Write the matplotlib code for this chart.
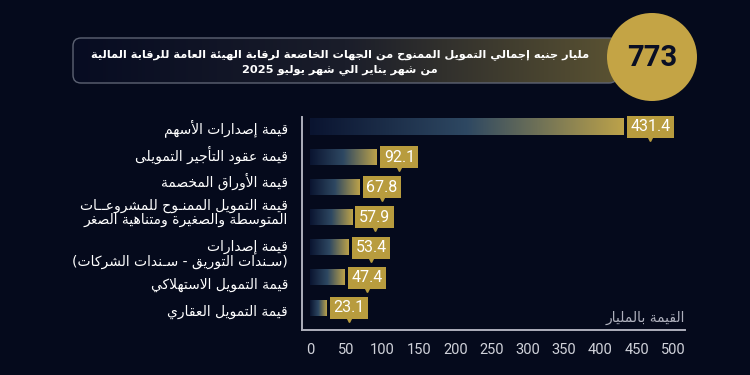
import re
import numpy as np
import matplotlib
matplotlib.use("Agg")
import matplotlib.pyplot as plt
import matplotlib.transforms as mtransforms
from matplotlib.colors import LinearSegmentedColormap
from matplotlib.patches import FancyBboxPatch, Ellipse

# data
categories = [
    "قيمة إصدارات الأسهم",
    "قيمة عقود التأجير التمويلى",
    "قيمة الأوراق المخصمة",
    "قيمة التمويل الممنـوح للمشروعــات\nالمتوسطة والصغيرة ومتناهية الصغر",
    "قيمة إصدارات\n(سـندات التوريق - سـندات الشركات)",
    "قيمة التمويل الاستهلاكي",
    "قيمة التمويل العقاري",
]
values = [431.4, 92.1, 67.8, 57.9, 53.4, 47.4, 23.1]
xticks = [0, 50, 100, 150, 200, 250, 300, 350, 400, 450, 500]
total = "773"
title = "مليار جنيه إجمالي التمويل الممنوح من الجهات الخاضعة لرقابة الهيئة العامة للرقابة المالية\nمن شهر يناير الي شهر يوليو 2025"
unit_label = "القيمة بالمليار"

bg = "#050a1c"
gold = "#b89c3e"
circle_gold = "#c4a445"
grey = "#aeb0bc"

# --- minimal arabic shaping (matplotlib has no RTL / joining support) ---
_letters = [('ء', 0xFE80, 1), ('آ', 0xFE81, 2), ('أ', 0xFE83, 2), ('ؤ', 0xFE85, 2),
            ('إ', 0xFE87, 2), ('ئ', 0xFE89, 4), ('ا', 0xFE8D, 2), ('ب', 0xFE8F, 4),
            ('ة', 0xFE93, 2), ('ت', 0xFE95, 4), ('ث', 0xFE99, 4), ('ج', 0xFE9D, 4),
            ('ح', 0xFEA1, 4), ('خ', 0xFEA5, 4), ('د', 0xFEA9, 2), ('ذ', 0xFEAB, 2),
            ('ر', 0xFEAD, 2), ('ز', 0xFEAF, 2), ('س', 0xFEB1, 4), ('ش', 0xFEB5, 4),
            ('ص', 0xFEB9, 4), ('ض', 0xFEBD, 4), ('ط', 0xFEC1, 4), ('ظ', 0xFEC5, 4),
            ('ع', 0xFEC9, 4), ('غ', 0xFECD, 4), ('ف', 0xFED1, 4), ('ق', 0xFED5, 4),
            ('ك', 0xFED9, 4), ('ل', 0xFEDD, 4), ('م', 0xFEE1, 4), ('ن', 0xFEE5, 4),
            ('ه', 0xFEE9, 4), ('و', 0xFEED, 2), ('ى', 0xFEEF, 2), ('ي', 0xFEF1, 4)]
FORMS = {c: tuple(b + k for k in range(n)) for c, b, n in _letters}
FORMS['ـ'] = (0x640,) * 4
LAM_ALEF = {'آ': 0xFEF5, 'أ': 0xFEF7, 'إ': 0xFEF9, 'ا': 0xFEFB}


def shape(text):
    units = []
    i = 0
    while i < len(text):
        c = text[i]
        if c == 'ل' and i + 1 < len(text) and text[i + 1] in LAM_ALEF:
            b = LAM_ALEF[text[i + 1]]
            units.append((b, b + 1))
            i += 2
            continue
        units.append(FORMS.get(c, c))
        i += 1
    out = []
    for k, u in enumerate(units):
        if isinstance(u, str):
            out.append(u)
            continue
        prev = units[k - 1] if k > 0 else None
        nxt = units[k + 1] if k + 1 < len(units) else None
        jp = isinstance(prev, tuple) and len(prev) == 4 and len(u) > 1
        jn = len(u) == 4 and isinstance(nxt, tuple) and len(nxt) > 1
        if jp and jn:
            g = u[3]
        elif jp:
            g = u[1]
        elif jn:
            g = u[2]
        else:
            g = u[0]
        out.append(chr(g))
    return ''.join(out)


def rtl(s):
    lines = []
    for line in s.split('\n'):
        parts = re.findall(r'[0-9][0-9.]*|.', shape(line))
        mirror = {'(': ')', ')': '('}
        lines.append(''.join(mirror.get(p, p) for p in reversed(parts)))
    return '\n'.join(lines)


plt.rcParams['font.family'] = ['DejaVu Sans']

fig = plt.figure(figsize=(7.5, 3.75), dpi=100, facecolor=bg)

# background layer in pixel coordinates for the header
bgax = fig.add_axes([0, 0, 1, 1], zorder=-1)
bgax.set_xlim(0, 750)
bgax.set_ylim(375, 0)
bgax.axis('off')
bgax.set_facecolor(bg)

box = FancyBboxPatch((73, 38), 544, 45, boxstyle="round,pad=0,rounding_size=8",
                     fc='none', ec='#5d6373', lw=1)
bgax.add_patch(box)
hcmap = LinearSegmentedColormap.from_list('h', ['#070c22', '#1a1d2a', '#5a5232'])
im = bgax.imshow(np.linspace(0, 1, 256).reshape(1, -1), cmap=hcmap, aspect='auto',
                 extent=(73, 617, 83, 38), zorder=0.5)
im.set_clip_path(box)
bgax.add_patch(Ellipse((652, 57), 90, 88, fc=circle_gold, ec='none', zorder=3))
bgax.text(652, 58, total, ha='center', va='center', fontsize=21, fontweight='bold',
          family='Roboto', color='#0a0f24', zorder=4)
bgax.text(340, 62, rtl(title), ha='center', va='center', fontsize=8.2,
          fontweight='bold', color='white', linespacing=1.45, zorder=4)
bgax.set_xlim(0, 750)
bgax.set_ylim(375, 0)

# main chart
ax = fig.add_axes([302 / 750, 1 - 330 / 375, 383 / 750, 213 / 375])
ax.set_facecolor('none')
bcmap = LinearSegmentedColormap.from_list('b', ['#0a1430', '#2e4862', '#bca24a'])
grad = np.linspace(0, 1, 256).reshape(1, -1)
ypos = np.arange(len(values))
labels = []
for y, v in zip(ypos, values):
    h = 0.55 if y == 0 else 0.5
    ax.imshow(grad, cmap=bcmap, aspect='auto', extent=(0, v, y + h / 2, y - h / 2))
    t = ax.annotate(f"{v}", xy=(v, y), xytext=(5, 0), textcoords='offset points',
                    ha='left', va='center', fontsize=11.5, color='white', family='Roboto',
                    bbox=dict(boxstyle='square,pad=0.22', fc=gold, ec='none'))
    labels.append(t)

ax.set_xlim(-11, 516.5)
ax.set_ylim(6.73, -0.33)
ax.set_xticks(xticks)
ax.set_xticklabels([str(t) for t in xticks], family='Roboto')
ax.set_yticks(ypos)
ax.set_yticklabels([rtl(c) for c in categories], fontsize=10, color='white',
                   linespacing=1.0)
ax.tick_params(axis='x', length=0, pad=9, labelsize=10.5, labelcolor='#d0d2da')
ax.tick_params(axis='y', length=0, pad=10)
# in the original the labels are spread a bit differently from the bars
ticklabs = ax.get_yticklabels()
for idx, dy in enumerate([1, 4, 8, 6, -5, -5, -2]):
    off = mtransforms.ScaledTranslation(0, dy / 100, fig.dpi_scale_trans)
    ticklabs[idx].set_transform(ticklabs[idx].get_transform() + off)
for s in ['top', 'right']:
    ax.spines[s].set_visible(False)
for s in ['left', 'bottom']:
    ax.spines[s].set_color(grey)
    ax.spines[s].set_linewidth(1.4)
ax.text(1.0, 0.025, rtl(unit_label), transform=ax.transAxes, ha='right', va='bottom',
        fontsize=10, color=grey)

# small pointers under the value boxes
fig.canvas.draw()
inv = ax.transData.inverted()
for t in labels:
    ext = t.get_bbox_patch().get_window_extent()
    xc, yb = inv.transform(((ext.x0 + ext.x1) / 2, ext.y0))
    ax.plot(xc, yb, marker='v', ms=4, color=gold, clip_on=False, zorder=5)

fig.savefig('out.png', dpi=100, facecolor=bg)
